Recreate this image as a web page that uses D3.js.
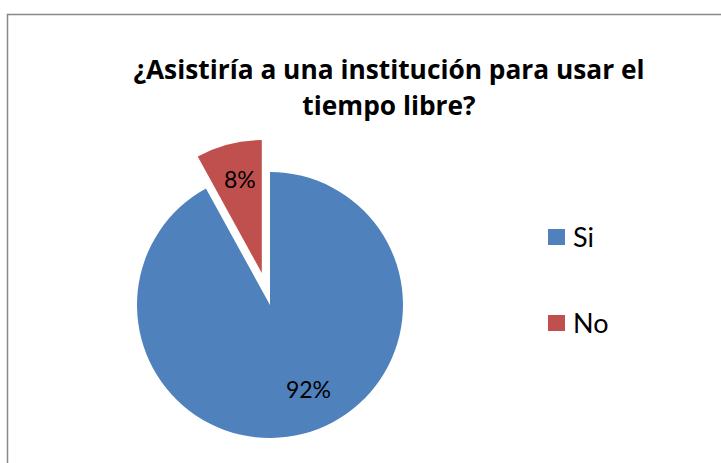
<!DOCTYPE html>
<html><head><meta charset="utf-8">
<script src="https://cdn.jsdelivr.net/npm/d3@7"></script>
<style>body{margin:0;background:#fff}svg{display:block}</style>
</head><body>
<svg id="c" width="721" height="463"></svg>
<script>
const categories = ["Si", "No"];
const values = [92, 8];
const colors = ["#4F81BD", "#C0504D"];
const titleLines = ["¿Asistiría a una institución para usar el", "tiempo libre?"];

const svg = d3.select("#c");
svg.append("rect").attr("x", 7.5).attr("y", 14.5).attr("width", 740).attr("height", 480)
  .attr("fill", "#fff").attr("stroke", "#888").attr("stroke-width", 1.5);

const font = "Lato, Carlito, 'Open Sans', sans-serif";
svg.append("g").selectAll("text").data(titleLines).join("text")
  .attr("x", 389).attr("y", (d, i) => 79 + i * 36)
  .attr("text-anchor", "middle").attr("font-family", "'Open Sans', sans-serif")
  .attr("font-weight", "bold").attr("font-size", 26.3).attr("fill", "#000")
  .text(d => d);

const cx = 270, cy = 305, r = 133, explode = 33;
const pie = d3.pie().sort(null).value(d => d)(values);
const arc = d3.arc().innerRadius(0).outerRadius(r);
const g = svg.append("g").attr("transform", `translate(${cx},${cy})`);
const slices = g.selectAll("g.s").data(pie).join("g").attr("class", "s")
  .attr("transform", (d, i) => {
    if (i === 1) {
      const m = (d.startAngle + d.endAngle) / 2;
      return `translate(${Math.sin(m) * explode},${-Math.cos(m) * explode})`;
    }
    return null;
  });
slices.append("path").attr("d", arc).attr("fill", (d, i) => colors[i]);
// label placement: fraction of radius and angular shift (radians) per slice
const labelRad = [0.70, 0.72];
const labelShift = [-0.175, 0.02];
slices.append("text")
  .attr("transform", (d, i) => {
    const m = (d.startAngle + d.endAngle) / 2 + labelShift[i];
    const rr = r * labelRad[i];
    return `translate(${Math.sin(m) * rr},${-Math.cos(m) * rr})`;
  })
  .attr("text-anchor", "middle").attr("dy", "0.36em")
  .attr("font-family", font).attr("font-size", 23).attr("fill", "#000")
  .text(d => Math.round(d.value / d3.sum(values) * 100) + "%");

const leg = svg.append("g").selectAll("g").data(categories).join("g")
  .attr("transform", (d, i) => `translate(548,${229 + i * 86})`);
leg.append("rect").attr("width", 17).attr("height", 16).attr("fill", (d, i) => colors[i]);
leg.append("text").attr("x", 25).attr("y", 8).attr("dy", "0.36em")
  .attr("font-family", font).attr("font-size", 27).attr("fill", "#000").text(d => d);
</script>
</body></html>
